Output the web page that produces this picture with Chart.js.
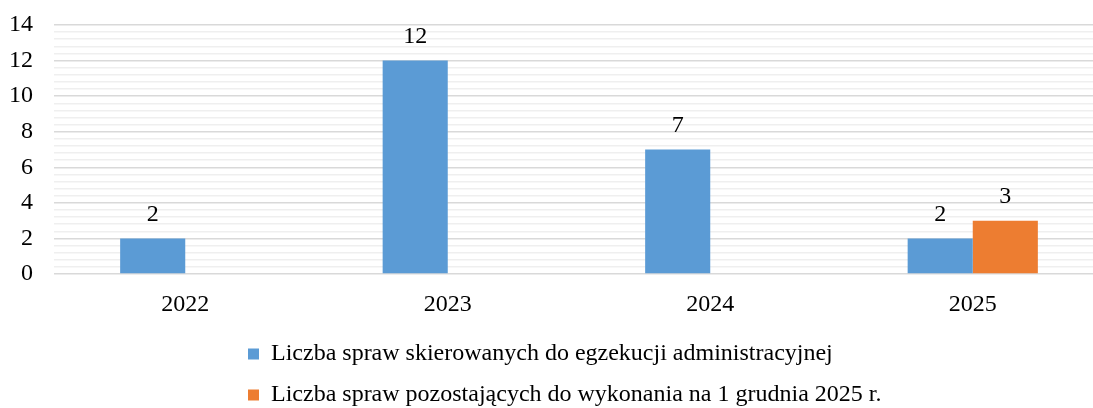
<!DOCTYPE html>
<html>
<head>
<meta charset="utf-8">
<script src="https://cdn.jsdelivr.net/npm/chart.js@4/dist/chart.umd.min.js"></script>
<style>
  html, body { margin: 0; padding: 0; background: #fff; overflow: hidden; }
  #wrap { width: 1093px; height: 408px; overflow: hidden; }
</style>
</head>
<body>
<div id="wrap"><canvas id="c" width="1104" height="408"></canvas></div>
<script>
var years = ['2022', '2023', '2024', '2025'];
var skierowane = [2, 12, 7, 2];
var pozostajace = [null, null, null, 3];
var seriesNames = [
  'Liczba spraw skierowanych do egzekucji administracyjnej',
  'Liczba spraw pozostających do wykonania na 1 grudnia 2025 r.'
];

var FONT = { family: '"Liberation Serif", "Times New Roman", serif', size: 24 };

function isMajor(v) { return Math.abs(v / 2 - Math.round(v / 2)) < 1e-6; }

// value labels over the bars
var barLabels = {
  id: 'barLabels',
  afterDatasetsDraw: function (chart) {
    var ctx = chart.ctx;
    ctx.save();
    ctx.font = FONT.size + 'px ' + FONT.family;
    ctx.fillStyle = '#000';
    ctx.textAlign = 'center';
    ctx.textBaseline = 'middle';
    chart.data.datasets.forEach(function (ds, i) {
      chart.getDatasetMeta(i).data.forEach(function (el, j) {
        var v = ds.data[j];
        if (v == null) return;
        ctx.fillText(String(v), el.x, el.y - 24);
      });
    });
    ctx.restore();
  }
};

// legend lines start at the same x, like the original
var legendPlace = {
  id: 'legendPlace',
  afterLayout: function (chart) {
    var lg = chart.legend;
    if (!lg) return;
    var w = lg.right - lg.left;
    lg.left = 231;
    lg.right = lg.left + w;
    lg.top = 325;
  }
};

new Chart(document.getElementById('c'), {
  type: 'bar',
  data: {
    labels: years,
    datasets: [
      { label: seriesNames[0], data: skierowane, backgroundColor: '#5B9BD5', borderWidth: 0 },
      { label: seriesNames[1], data: pozostajace, backgroundColor: '#ED7D31', borderWidth: 0 }
    ]
  },
  options: {
    responsive: false,
    animation: false,
    layout: { padding: { top: 25, right: 0, bottom: 0, left: 0 } },
    datasets: { bar: { barPercentage: 1, categoryPercentage: 0.496 } },
    scales: {
      x: {
        grid: { display: false, drawTicks: false },
        border: { display: false },
        ticks: { font: FONT, color: '#000', padding: 16 },
        afterFit: function (s) { s.height = 46; }
      },
      y: {
        min: 0,
        max: 14,
        grid: {
          drawTicks: false,
          lineWidth: 1.5,
          color: function (c) { return isMajor(c.tick.value) ? '#d9d9d9' : '#efefef'; }
        },
        border: { display: false },
        ticks: {
          stepSize: 0.4,
          autoSkip: false,
          font: FONT,
          color: '#000',
          padding: 21,
          callback: function (v) { return isMajor(v) ? String(Math.round(v)) : ''; }
        },
        afterFit: function (s) { s.width = 54; s.paddingTop = 0; s.paddingBottom = 0; }
      }
    },
    plugins: {
      legend: {
        position: 'bottom',
        align: 'start',
        maxHeight: 88,
        labels: { font: FONT, color: '#000', boxWidth: 11, boxHeight: 11, padding: 17 }
      },
      tooltip: { enabled: false }
    }
  },
  plugins: [barLabels, legendPlace]
});
</script>
</body>
</html>
